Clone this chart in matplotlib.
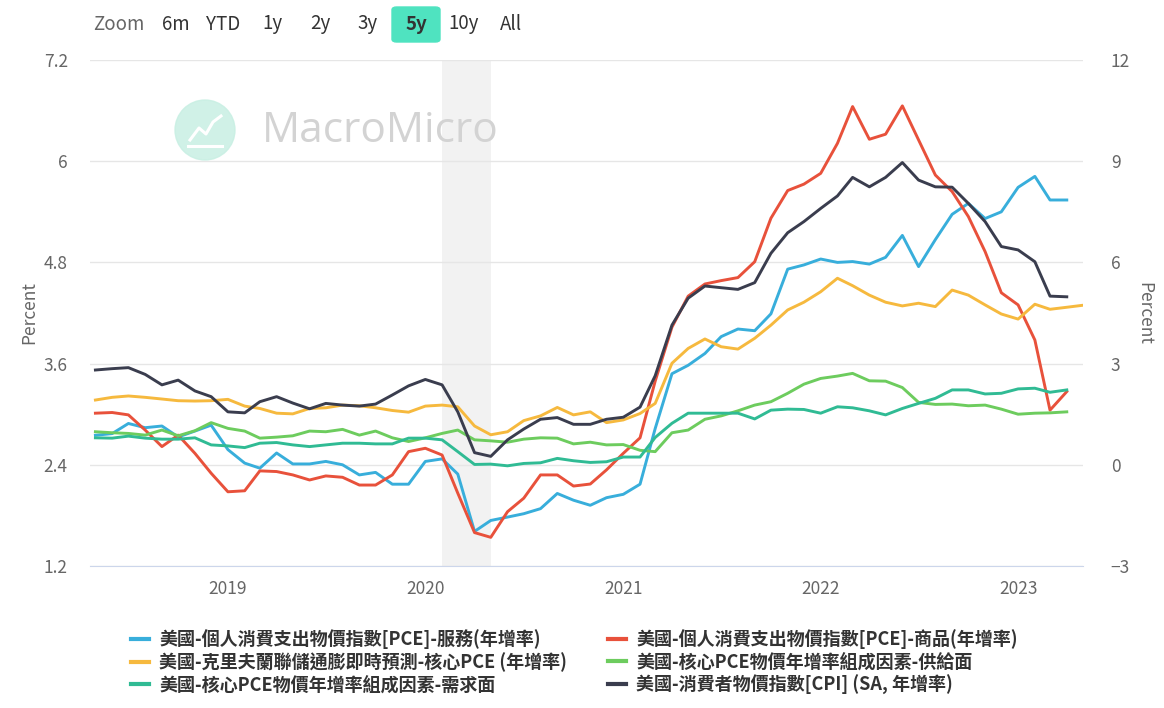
import matplotlib
matplotlib.use('Agg')
import matplotlib.pyplot as plt
import matplotlib.dates as mdates
from matplotlib.patches import FancyBboxPatch, Circle
from matplotlib.lines import Line2D
import numpy as np
import pandas as pd

plt.rcParams['font.family'] = ['Noto Sans CJK TC', 'DejaVu Sans']

# 月資料 2018-05 ~ 2023-04 (克里夫蘭預測到 2023-05)
months = pd.date_range('2018-05-01', periods=60, freq='MS')
months_nowcast = pd.date_range('2018-05-01', periods=61, freq='MS')

# 左軸: PCE 服務
pce_services = [2.75, 2.77, 2.89, 2.84, 2.86, 2.73, 2.80, 2.87, 2.58, 2.42, 2.36, 2.54,
                2.41, 2.41, 2.44, 2.40, 2.28, 2.31, 2.17, 2.17, 2.44, 2.47, 2.29, 1.61,
                1.74, 1.78, 1.82, 1.88, 2.06, 1.98, 1.92, 2.01, 2.05, 2.17, 2.83, 3.48,
                3.58, 3.72, 3.92, 4.01, 3.99, 4.19, 4.72, 4.77, 4.84, 4.80, 4.81, 4.78,
                4.86, 5.12, 4.75, 5.07, 5.37, 5.50, 5.32, 5.40, 5.69, 5.82, 5.54, 5.54]

# 右軸
pce_goods = [1.53, 1.55, 1.48, 1.03, 0.54, 0.88, 0.34, -0.25, -0.80, -0.77, -0.18, -0.20,
             -0.30, -0.45, -0.33, -0.37, -0.60, -0.60, -0.30, 0.39, 0.49, 0.29, -0.84, -2.01,
             -2.15, -1.39, -0.99, -0.30, -0.30, -0.63, -0.57, -0.15, 0.34, 0.80, 2.48, 4.08,
             5.00, 5.36, 5.46, 5.55, 6.02, 7.31, 8.13, 8.32, 8.64, 9.53, 10.62, 9.65,
             9.80, 10.64, 9.63, 8.59, 8.10, 7.36, 6.32, 5.10, 4.74, 3.70, 1.62, 2.17]

cleveland_core_pce = [1.92, 2.00, 2.04, 2.00, 1.95, 1.90, 1.89, 1.90, 1.94, 1.74, 1.67, 1.53,
                      1.51, 1.67, 1.69, 1.77, 1.75, 1.69, 1.61, 1.56, 1.74, 1.77, 1.72, 1.15,
                      0.89, 0.98, 1.31, 1.45, 1.70, 1.48, 1.57, 1.25, 1.33, 1.52, 1.82, 3.01,
                      3.45, 3.73, 3.50, 3.43, 3.75, 4.14, 4.59, 4.82, 5.13, 5.53, 5.31, 5.03,
                      4.82, 4.71, 4.79, 4.69, 5.18, 5.03, 4.74, 4.47, 4.32, 4.76, 4.61, 4.67,
                      4.73]

supply_driven = [0.98, 0.95, 0.93, 0.88, 1.03, 0.86, 1.01, 1.25, 1.08, 1.00, 0.79, 0.82,
                 0.86, 1.00, 0.98, 1.05, 0.88, 1.00, 0.80, 0.69, 0.80, 0.93, 1.03, 0.74,
                 0.71, 0.67, 0.76, 0.80, 0.79, 0.62, 0.67, 0.59, 0.60, 0.43, 0.39, 0.95,
                 1.03, 1.35, 1.45, 1.60, 1.77, 1.87, 2.12, 2.39, 2.56, 2.63, 2.71, 2.49,
                 2.48, 2.29, 1.85, 1.79, 1.80, 1.75, 1.77, 1.65, 1.50, 1.53, 1.54, 1.57]

demand_driven = [0.80, 0.79, 0.85, 0.79, 0.76, 0.76, 0.80, 0.59, 0.56, 0.51, 0.64, 0.66,
                 0.59, 0.54, 0.59, 0.64, 0.64, 0.62, 0.62, 0.79, 0.79, 0.74, 0.39, 0.01,
                 0.02, -0.03, 0.04, 0.06, 0.19, 0.12, 0.07, 0.09, 0.23, 0.23, 0.81, 1.23,
                 1.53, 1.53, 1.53, 1.53, 1.36, 1.62, 1.65, 1.64, 1.53, 1.72, 1.69, 1.60,
                 1.48, 1.67, 1.82, 1.97, 2.22, 2.22, 2.10, 2.12, 2.25, 2.27, 2.15, 2.22]

cpi = [2.81, 2.85, 2.88, 2.68, 2.37, 2.51, 2.19, 2.02, 1.57, 1.54, 1.87, 2.02,
       1.83, 1.66, 1.82, 1.77, 1.74, 1.80, 2.07, 2.34, 2.53, 2.37, 1.57, 0.36,
       0.25, 0.74, 1.06, 1.35, 1.40, 1.20, 1.20, 1.35, 1.41, 1.71, 2.64, 4.14,
       4.94, 5.30, 5.25, 5.20, 5.40, 6.27, 6.88, 7.21, 7.60, 7.97, 8.52, 8.24,
       8.52, 8.96, 8.44, 8.24, 8.23, 7.75, 7.21, 6.47, 6.37, 6.02, 5.00, 4.98]

labels = ['美國-個人消費支出物價指數[PCE]-服務(年增率)',
          '美國-個人消費支出物價指數[PCE]-商品(年增率)',
          '美國-克里夫蘭聯儲通膨即時預測-核心PCE (年增率)',
          '美國-核心PCE物價年增率組成因素-供給面',
          '美國-核心PCE物價年增率組成因素-需求面',
          '美國-消費者物價指數[CPI] (SA, 年增率)']
colors = ['#38aedb', '#e8513b', '#f6b93e', '#6dcc5e', '#30bb94', '#3a3d4e']

left_ticks = [1.2, 2.4, 3.6, 4.8, 6, 7.2]
right_ticks = [-3, 0, 3, 6, 9, 12]

W, H = 1164, 708
fig = plt.figure(figsize=(W / 100, H / 100), dpi=100)

def fx(px):
    return px / W

def fy(py):
    return 1 - py / H

ax = fig.add_axes([fx(90), fy(566), fx(1083) - fx(90), fy(60) - fy(566)])
ax2 = ax.twinx()

# 衰退期陰影
ax.axvspan(pd.Timestamp('2020-02-01'), pd.Timestamp('2020-05-01'), color='#f2f2f2', zorder=0, lw=0)

lw = 2.1
ax.plot(months, pce_services, color=colors[0], lw=lw, zorder=3)
ax2.plot(months, pce_goods, color=colors[1], lw=lw)
ax2.plot(months_nowcast, cleveland_core_pce, color=colors[2], lw=lw)
ax2.plot(months, supply_driven, color=colors[3], lw=lw)
ax2.plot(months, demand_driven, color=colors[4], lw=lw)
ax2.plot(months, cpi, color=colors[5], lw=lw)

ax.set_xlim(pd.Timestamp('2018-04-21'), pd.Timestamp('2023-05-01'))
ax.set_ylim(1.2, 7.2)
ax2.set_ylim(-3, 12)
ax.set_yticks(left_ticks)
ax.set_yticklabels(['1.2', '2.4', '3.6', '4.8', '6', '7.2'])
ax2.set_yticks(right_ticks)

ax.xaxis.set_major_locator(mdates.YearLocator())
ax.xaxis.set_major_formatter(mdates.DateFormatter('%Y'))

ax.grid(axis='y', color='#e6e6e6', lw=1)
ax.set_axisbelow(True)
for a in (ax, ax2):
    for s in a.spines.values():
        s.set_visible(False)
ax.spines['bottom'].set_visible(True)
ax.spines['bottom'].set_color('#ccd6eb')

tick_fs = 12.5
ax.tick_params(axis='x', length=0, pad=10, labelsize=tick_fs, labelcolor='#666666')
ax.tick_params(axis='y', length=0, pad=16, labelsize=tick_fs, labelcolor='#666666')
ax2.tick_params(axis='y', length=0, pad=20, labelsize=tick_fs, labelcolor='#666666')

ax.set_ylabel('Percent', color='#666666', fontsize=tick_fs, labelpad=4)
ax2.set_ylabel('Percent', color='#666666', fontsize=tick_fs, rotation=270, labelpad=17)

# 浮水印
px_tr = fig.dpi_scale_trans
fig.patches.append(Circle((205 / 100, (H - 130) / 100), 0.30, transform=px_tr,
                          color='#c8efe3', alpha=0.85, zorder=0))
icon_x = np.array([190, 199, 206, 213, 221]) / 100
icon_y = (H - np.array([140, 128, 134, 122, 116])) / 100
fig.lines.append(Line2D(icon_x, icon_y, transform=px_tr, color='white', lw=2.2))
fig.lines.append(Line2D(np.array([188, 222]) / 100, (H - np.array([146, 146])) / 100,
                        transform=px_tr, color='white', lw=2.2))
fig.text(fx(262), fy(131), 'MacroMicro', fontsize=30.5, color='#d3d3d3', va='center',
         ha='left', family=['Open Sans', 'DejaVu Sans'], zorder=0)

# 上方縮放按鈕
fig.text(fx(93), fy(24), 'Zoom', fontsize=13.5, color='#666666', va='center', ha='left')
btns = ['6m', 'YTD', '1y', '2y', '3y', '5y', '10y', 'All']
btn_x = [176, 223, 272, 320, 368, 416, 464, 511]
for b, bx in zip(btns, btn_x):
    if b == '5y':
        fig.patches.append(FancyBboxPatch((fx(392), fy(42)), fx(48), 35 / H,
                                          boxstyle='round,pad=0,rounding_size=0.004',
                                          transform=fig.transFigure, color='#4fe3c0',
                                          zorder=1))
        fig.text(fx(bx), fy(24), b, fontsize=13.5, color='#333333', va='center', ha='center',
                 weight='bold', zorder=2)
    else:
        fig.text(fx(bx), fy(24), b, fontsize=13.5, color='#333333', va='center', ha='center')

# 圖例 (兩欄)
handles = [Line2D([], [], color=c, lw=3) for c in colors]
order = [0, 2, 4, 1, 3, 5]
fig.legend([handles[i] for i in order], [labels[i] for i in order], ncol=2,
           loc='upper left', bbox_to_anchor=(fx(122), fy(620)), frameon=False,
           borderpad=0, prop={'size': 13, 'weight': 'bold'}, labelcolor='#333333',
           handlelength=1.0, handletextpad=0.55, columnspacing=2.3, labelspacing=0.18)

fig.savefig('out.png', dpi=100)
